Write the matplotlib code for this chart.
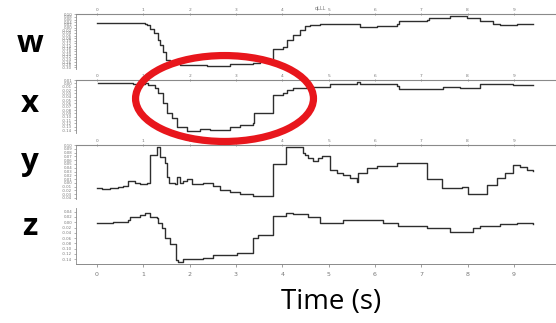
#!/usr/bin/env python3
"""out.png — quaternion components w/x/y/z over time, dip around 1.5-4 s circled."""
import matplotlib
matplotlib.use("agg")
import matplotlib.pyplot as plt
from matplotlib.patches import Ellipse

LINE = "#2e2e2e"; SPINE = "#8a8a8a"; TICK = "#777777"; RED = "#e8161c"

# stepped traces (time in s)
w_t = [0.00, 1.04, 1.08, 1.14, 1.23, 1.32, 1.36, 1.43, 1.49, 1.58, 1.79, 2.38, 2.87,
       3.37, 3.52, 3.80, 3.81, 4.02, 4.10, 4.23, 4.38, 4.49, 4.60, 4.82, 5.03, 5.68,
       6.05, 6.48, 6.52, 7.13, 7.17, 7.62, 7.99, 8.27, 8.55, 8.70, 9.07, 9.42]
w_v = [0.035, 0.029, 0.018, -0.013, -0.043, -0.095, -0.133, -0.185, -0.245, -0.268,
       -0.283, -0.290, -0.275, -0.265, -0.253, -0.238, -0.163, -0.148, -0.095, -0.058,
       -0.020, 0.010, 0.018, 0.025, 0.023, 0.003, 0.015, 0.025, 0.050, 0.060, 0.072,
       0.083, 0.072, 0.050, 0.030, 0.018, 0.025, 0.025]

x_t = [0.02, 0.78, 1.04, 1.10, 1.25, 1.32, 1.43, 1.51, 1.62, 1.73, 1.94, 2.22, 2.44,
       2.87, 3.09, 3.37, 3.38, 3.59, 3.80, 4.02, 4.10, 4.23, 4.38, 4.54, 4.97, 5.03,
       5.62, 5.68, 6.48, 6.52, 7.13, 7.47, 7.84, 8.27, 8.70, 8.98, 9.42]
x_v = [0.000, -0.003, 0.002, -0.005, -0.015, -0.030, -0.059, -0.089, -0.104, -0.130,
       -0.142, -0.138, -0.140, -0.130, -0.125, -0.118, -0.090, -0.088, -0.035, -0.030,
       -0.020, -0.015, -0.014, -0.010, -0.012, -0.002, 0.003, -0.003, -0.007, -0.017,
       -0.017, -0.012, -0.015, -0.002, -0.002, -0.005, -0.005]

y_t = [0.00, 0.11, 0.28, 0.45, 0.56, 0.67, 0.82, 0.93, 1.08, 1.14, 1.25, 1.30, 1.36,
       1.47, 1.51, 1.56, 1.68, 1.73, 1.79, 1.86, 1.94, 2.05, 2.29, 2.51, 2.66, 2.87,
       3.09, 3.37, 3.80, 4.08, 4.45, 4.49, 4.56, 4.67, 4.77, 4.86, 5.03, 5.18, 5.31,
       5.46, 5.62, 5.64, 5.83, 6.05, 6.48, 7.13, 7.45, 7.88, 8.01, 8.23, 8.42, 8.64,
       8.81, 8.98, 9.14, 9.29, 9.42]
y_v = [-0.014, -0.017, -0.013, -0.010, -0.007, 0.006, 0.000, -0.003, 0.000, 0.074,
       0.074, 0.096, 0.069, 0.052, 0.016, -0.001, -0.004, 0.015, 0.000, 0.006, 0.010,
       -0.004, -0.001, -0.008, -0.019, -0.023, -0.029, -0.034, 0.049, 0.096, 0.078,
       0.074, 0.065, 0.059, 0.065, 0.072, 0.033, 0.025, 0.021, 0.012, 0.003, 0.027,
       0.038, 0.045, 0.052, 0.009, -0.014, -0.012, -0.029, -0.029, -0.006, 0.012,
       0.027, 0.047, 0.041, 0.034, 0.032]

z_t = [0.00, 0.35, 0.67, 0.71, 0.93, 1.04, 1.14, 1.30, 1.32, 1.40, 1.47, 1.58, 1.71,
       1.75, 1.86, 2.01, 2.29, 2.51, 3.02, 3.37, 3.48, 3.80, 4.08, 4.23, 4.38, 4.56,
       4.82, 5.10, 5.31, 5.62, 6.18, 6.50, 7.13, 7.41, 7.62, 7.84, 8.12, 8.27, 8.70,
       9.07, 9.42]
z_v = [-0.002, 0.002, 0.009, 0.021, 0.028, 0.036, 0.021, 0.015, -0.004, -0.023,
       -0.061, -0.083, -0.143, -0.149, -0.140, -0.138, -0.134, -0.124, -0.117, -0.061,
       -0.048, 0.024, 0.036, 0.031, 0.031, 0.021, -0.002, -0.002, 0.009, 0.009,
       -0.004, -0.014, -0.023, -0.023, -0.036, -0.037, -0.023, -0.013, -0.008,
       -0.004, -0.008]

time_ticks = [0, 1, 2, 3, 4, 5, 6, 7, 8, 9]
w_ticks = [0.10, 0.08, 0.06, 0.04, 0.02, 0.00, -0.02, -0.04, -0.06, -0.08, -0.10,
           -0.12, -0.14, -0.16, -0.18, -0.20, -0.22, -0.24, -0.26, -0.28, -0.30]
x_ticks = [0.01, 0.00, -0.01, -0.02, -0.03, -0.04, -0.05, -0.06, -0.07, -0.08,
           -0.09, -0.10, -0.11, -0.12, -0.13, -0.14]
y_ticks = [0.10, 0.09, 0.08, 0.07, 0.06, 0.05, 0.04, 0.03, 0.02, 0.01, 0.00,
           -0.01, -0.02, -0.03, -0.04]
z_ticks = [0.04, 0.02, 0.00, -0.02, -0.04, -0.06, -0.08, -0.10, -0.12, -0.14]

# name, times, values, yticks, (axes bottom, height), ylim, label baseline
panels = [
    ("w", w_t, w_v, w_ticks, (0.786, 0.170), (-0.3125, 0.10), 0.839),
    ("x", x_t, x_v, x_ticks, (0.588, 0.164), (-0.149, 0.01), 0.653),
    ("y", y_t, y_v, y_ticks, (0.384, 0.167), (-0.0426, 0.10), 0.474),
    ("z", z_t, z_v, z_ticks, (0.182, 0.174), (-0.159, 0.054), 0.272),
]

fig = plt.figure(figsize=(5.56, 3.23), dpi=100)
fig.patch.set_facecolor("white")

for name, t, v, yt, (y0, h), ylim, base in panels:
    ax = fig.add_axes([0.1367, y0, 1.0 - 0.1367, h])
    ax.plot(t, v, drawstyle="steps-post", color=LINE, lw=1.0)
    ax.set_xlim(-0.454, 9.91)
    ax.set_ylim(*ylim)
    ax.set_yticks(yt)
    ax.set_yticklabels([f"{q:.2f}" for q in yt])
    ax.set_xticks(time_ticks)
    ax.set_facecolor("none")
    ax.spines["right"].set_visible(False)
    ax.spines["left"].set_color(SPINE); ax.spines["left"].set_linewidth(0.6)
    ax.tick_params(axis="y", labelsize=2.8, length=1.8, width=0.4, pad=1,
                   colors=TICK)
    if name == "z":
        ax.spines["top"].set_visible(False)
        ax.spines["bottom"].set_color(SPINE); ax.spines["bottom"].set_linewidth(0.7)
        ax.tick_params(axis="x", labelsize=4.5, length=2.5, width=0.5, pad=3,
                       colors=TICK)
    else:
        ax.spines["bottom"].set_visible(False)
        ax.spines["top"].set_color(SPINE); ax.spines["top"].set_linewidth(0.8)
        ax.xaxis.tick_top()
        ax.tick_params(axis="x", labelsize=3.2, length=2, width=0.5, pad=0.5,
                       direction="inout", colors=TICK)
    fig.text(0.054, base, name, fontsize=22.5, fontweight="bold",
             family="Open Sans", color="black", ha="center", va="baseline")

fig.text(0.576, 0.975, "qLLL", fontsize=3.5, color=TICK, ha="center", va="center")
fig.text(0.595, 0.065, "Time (s)", fontsize=20, family="Open Sans",
         color="black", ha="center", va="center")

fig.add_artist(Ellipse((0.4038, 0.695), 0.320, 0.266, transform=fig.transFigure,
                       fill=False, edgecolor=RED, lw=5.2, zorder=10))

fig.savefig("out.png", dpi=100, facecolor="white")
print("wrote out.png")
